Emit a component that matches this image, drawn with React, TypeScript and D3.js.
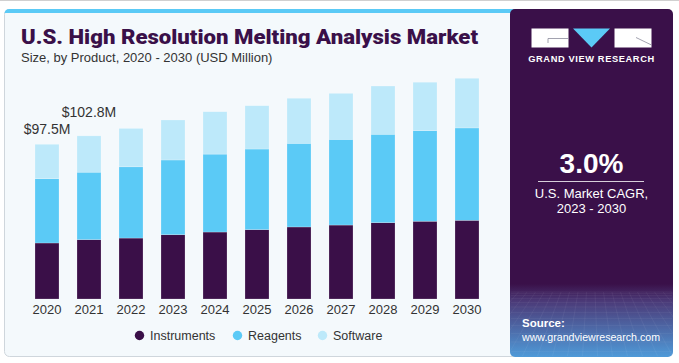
import * as d3 from 'd3';
import React, { useRef, useEffect } from 'react';

const years = ['2020', '2021', '2022', '2023', '2024', '2025', '2026', '2027', '2028', '2029', '2030'];
const instruments = [35.3, 37.4, 38.4, 40.5, 42.2, 43.7, 45.4, 46.6, 48.1, 49.0, 49.6];
const reagents = [40.5, 42.5, 44.9, 47.1, 49.1, 50.8, 52.7, 54.0, 55.7, 57.1, 58.2];
const software = [21.7, 22.9, 24.2, 25.2, 26.7, 27.3, 28.4, 29.0, 30.4, 30.5, 31.3];
const seriesNames = ['Instruments', 'Reagents', 'Software'];
const seriesColors = ['#3a0f48', '#5bcaf6', '#bde9fa'];
const totalLabels = [
    { year: '2020', text: '$97.5M', dy: -10 },
    { year: '2021', text: '$102.8M', dy: -19 },
];

function App() {
    const ref = useRef(null);

    useEffect(() => {
        let svg = d3.select(ref.current);
        svg.selectAll('*').remove();
        draw(svg);
    }, []);

    const draw = (svg) => {
        const font = "'Liberation Sans', Arial, sans-serif";

        let defs = svg.append('defs');
        let grad = defs.append('linearGradient').attr('id', 'panelGrad')
            .attr('x1', 0).attr('y1', 0).attr('x2', 0).attr('y2', 1);
        grad.append('stop').attr('offset', '0%').attr('stop-color', '#3a1049');
        grad.append('stop').attr('offset', '79%').attr('stop-color', '#3a1049');
        grad.append('stop').attr('offset', '84%').attr('stop-color', '#4b3a78');
        grad.append('stop').attr('offset', '100%').attr('stop-color', '#4f9ad8');

        // card
        svg.append('rect').attr('x', 0).attr('y', 0).attr('width', 679).attr('height', 363).attr('fill', '#ffffff');
        svg.append('rect').attr('x', 0).attr('y', 0).attr('width', 679).attr('height', 1).attr('fill', '#d0d0d0');
        svg.append('rect')
            .attr('x', 4.5).attr('y', 9.5).attr('width', 515).attr('height', 347)
            .attr('rx', 5).attr('fill', '#f4f9fc').attr('stroke', '#cfd6dc');
        svg.append('path')
            .attr('d', 'M4.5,14 Q4.5,9 9.5,9 L515,9 L515,13 L4.5,13 Z')
            .attr('fill', '#5bcaf6');

        // right panel
        svg.append('rect')
            .attr('x', 510).attr('y', 9).attr('width', 163).attr('height', 348)
            .attr('rx', 5).attr('fill', 'url(#panelGrad)');
        let grid = svg.append('g').attr('stroke', '#ffffff').attr('stroke-opacity', 0.09).attr('stroke-width', 0.6);
        d3.range(0, 20).forEach(i => {
            grid.append('line')
                .attr('x1', 510 + i * 8.5).attr('y1', 292)
                .attr('x2', 510 + (i - 9.5) * 15 + 80).attr('y2', 356);
        });
        d3.range(0, 12).forEach(i => {
            let y = 292 + i * i * 0.4 + i * 1;
            grid.append('line').attr('x1', 511).attr('x2', 672).attr('y1', y).attr('y2', y);
        });

        // logo
        let logo = svg.append('g');
        logo.append('rect').attr('x', 531.5).attr('y', 28.5).attr('width', 37).attr('height', 19).attr('fill', '#ffffff');
        logo.append('path').attr('d', 'M548,43 L548,38.5 L568.5,38.5').attr('fill', 'none').attr('stroke', '#8a8a9a').attr('stroke-width', 0.8);
        logo.append('path').attr('d', 'M573,28.5 L610,28.5 L591.5,47.5 Z').attr('fill', '#5bcaf6');
        logo.append('rect').attr('x', 614.5).attr('y', 28.5).attr('width', 37).attr('height', 19).attr('fill', '#ffffff');
        logo.append('path').attr('d', 'M636,37.5 L651.5,45').attr('fill', 'none').attr('stroke', '#8a8a9a').attr('stroke-width', 0.8);
        logo.append('text')
            .attr('x', 591.5).attr('y', 61.5)
            .attr('text-anchor', 'middle')
            .attr('font-family', font).attr('font-weight', 'bold').attr('font-size', '9.3px')
            .attr('letter-spacing', '0.6px')
            .attr('fill', '#ffffff')
            .text('GRAND VIEW RESEARCH');

        svg.append('text')
            .attr('x', 591.5).attr('y', 173)
            .attr('text-anchor', 'middle')
            .attr('font-family', font).attr('font-weight', 'bold').attr('font-size', '28px')
            .attr('fill', '#ffffff')
            .text('3.0%');
        svg.append('line').attr('x1', 538).attr('x2', 644).attr('y1', 181.5).attr('y2', 181.5)
            .attr('stroke', '#ffffff').attr('stroke-opacity', 0.8).attr('stroke-width', 1);
        svg.append('text')
            .attr('x', 591.5).attr('y', 197.5)
            .attr('text-anchor', 'middle')
            .attr('font-family', font).attr('font-size', '13px').attr('fill', '#ffffff')
            .text('U.S. Market CAGR,');
        svg.append('text')
            .attr('x', 591.5).attr('y', 212.5)
            .attr('text-anchor', 'middle')
            .attr('font-family', font).attr('font-size', '13px').attr('fill', '#ffffff')
            .text('2023 - 2030');
        svg.append('text')
            .attr('x', 522).attr('y', 327)
            .attr('font-family', font).attr('font-weight', 'bold').attr('font-size', '11.5px').attr('fill', '#ffffff')
            .text('Source:');
        svg.append('text')
            .attr('x', 522).attr('y', 341)
            .attr('font-family', font).attr('font-size', '11.5px').attr('fill', '#ffffff')
            .attr('textLength', 138).attr('lengthAdjust', 'spacingAndGlyphs')
            .text('www.grandviewresearch.com');

        // titles
        svg.append('text')
            .attr('x', 21).attr('y', 43.5)
            .attr('font-family', "Roboto, 'Liberation Sans', sans-serif").attr('font-weight', 900).attr('font-size', '20px')
            .attr('fill', '#3a1049')
            .attr('textLength', 457).attr('lengthAdjust', 'spacingAndGlyphs')
            .text('U.S. High Resolution Melting Analysis Market');
        svg.append('text')
            .attr('x', 21).attr('y', 61.5)
            .attr('font-family', font).attr('font-size', '13px')
            .attr('fill', '#333333')
            .text('Size, by Product, 2020 - 2030 (USD Million)');

        // chart
        let x = d3.scaleBand().domain(years).range([26, 488]).paddingInner(18 / 42).paddingOuter(9 / 42);
        let y = d3.scaleLinear().domain([0, 100]).range([299, 140.3]);

        let rows = years.map((yr, i) => ({ year: yr, Instruments: instruments[i], Reagents: reagents[i], Software: software[i] }));
        let stacked = d3.stack().keys(seriesNames)(rows);

        let g = svg.append('g');
        stacked.forEach((layer, li) => {
            g.selectAll('.bar' + li)
                .data(layer)
                .enter()
                .append('rect')
                .attr('x', d => x(d.data.year))
                .attr('y', d => y(d[1]))
                .attr('width', x.bandwidth())
                .attr('height', d => y(d[0]) - y(d[1]))
                .attr('fill', seriesColors[li])
                .attr('stroke', '#ffffff').attr('stroke-opacity', 0.35).attr('stroke-width', 0.6);
        });

        totalLabels.forEach(l => {
            let i = years.indexOf(l.year);
            let total = instruments[i] + reagents[i] + software[i];
            svg.append('text')
                .attr('x', x(l.year) + x.bandwidth() / 2)
                .attr('y', y(total) + l.dy)
                .attr('text-anchor', 'middle')
                .attr('font-family', font).attr('font-size', '14px')
                .attr('fill', '#333333')
                .text(l.text);
        });

        let axis = svg.append('g').attr('transform', 'translate(0,299)')
            .call(d3.axisBottom(x).tickSize(0).tickPadding(0));
        axis.select('.domain').remove();
        axis.selectAll('text')
            .attr('dy', 0).attr('y', 15)
            .attr('font-family', font).attr('font-size', '13px')
            .attr('fill', '#333333');

        // legend
        let legendX = [139.5, 237.5, 322.5];
        seriesNames.forEach((name, i) => {
            svg.append('circle').attr('cx', legendX[i]).attr('cy', 335.5).attr('r', 4.7).attr('fill', seriesColors[i]);
            svg.append('text')
                .attr('x', legendX[i] + 10.5).attr('y', 340)
                .attr('font-family', font).attr('font-size', '12.5px')
                .attr('fill', '#333333')
                .text(name);
        });
    };

    return (
        <svg ref={ref} width={679} height={363} style={{ position: 'absolute', left: 0, top: 0 }}>
        </svg>
    );
}

export default App;
